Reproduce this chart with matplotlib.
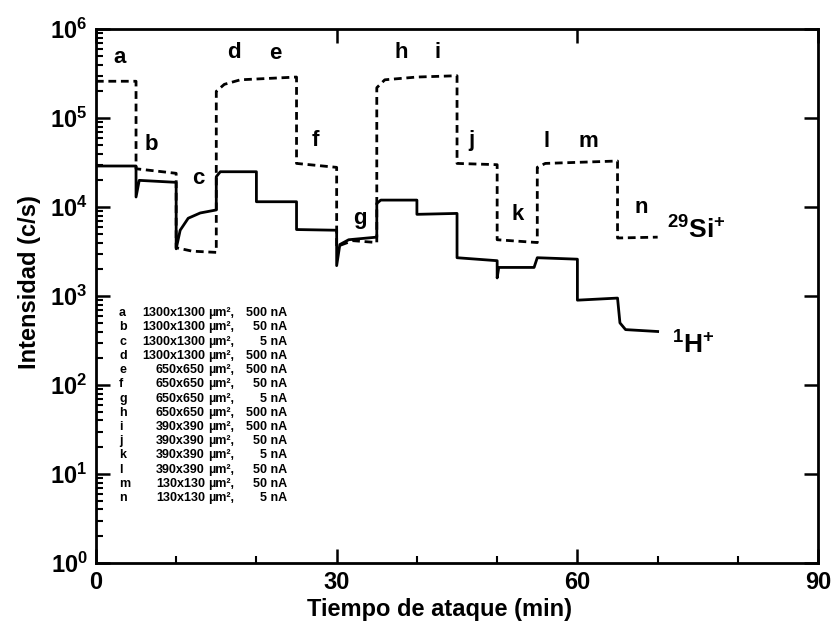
import numpy as np
import matplotlib
matplotlib.use("Agg")
import matplotlib.pyplot as plt
from matplotlib.ticker import MultipleLocator, LogLocator, NullFormatter

plt.rcParams['font.family'] = ['Liberation Sans', 'DejaVu Sans']
plt.rcParams['font.weight'] = 'bold'
plt.rcParams['mathtext.fontset'] = 'custom'
plt.rcParams['mathtext.rm'] = 'Liberation Sans:bold'
plt.rcParams['mathtext.it'] = 'Liberation Sans:bold'
plt.rcParams['mathtext.bf'] = 'Liberation Sans:bold'

# 29Si+ (linea discontinua): puntos de quiebre
si_t = [0, 5, 5, 10, 10, 12, 15, 15, 16, 18, 25, 25, 30, 30, 32, 35,
        35, 36, 40, 45, 45, 50, 50, 55, 55, 56, 65, 65, 70]
si_v = [2.6e5, 2.6e5, 2.7e4, 2.4e4, 3.5e3, 3.2e3, 3.1e3, 2.0e5, 2.4e5, 2.7e5,
        2.9e5, 3.1e4, 2.8e4, 3.6e3, 4.2e3, 4.0e3,
        2.2e5, 2.7e5, 2.9e5, 3.0e5, 3.1e4, 3.0e4, 4.3e3, 4.0e3,
        2.8e4, 3.1e4, 3.3e4, 4.5e3, 4.6e3]

# 1H+ (linea continua)
h_t = [0, 5, 5, 5.4, 10, 10, 10.5, 11.5, 13, 15, 15, 15.5, 20, 20, 25, 25, 30,
       30, 30.4, 31.5, 35, 35, 35.5, 40, 40, 45, 45, 50, 50, 50.2, 54.6, 55,
       60, 60, 65, 65.3, 66, 70]
h_v = [2.9e4, 2.9e4, 1.3e4, 2.0e4, 1.9e4, 3.4e3, 5.5e3, 7.5e3, 8.6e3, 9.3e3,
       2.2e4, 2.5e4, 2.5e4, 1.15e4, 1.15e4, 5.6e3, 5.5e3,
       2.2e3, 3.8e3, 4.3e3, 4.6e3, 1.1e4, 1.2e4, 1.2e4, 8.3e3, 8.5e3,
       2.7e3, 2.5e3, 1.6e3, 2.1e3, 2.1e3, 2.7e3,
       2.6e3, 9.0e2, 9.5e2, 5.0e2, 4.2e2, 4.0e2]

# etiquetas de las etapas
etapa_txt = ['a', 'b', 'c', 'd', 'e', 'f', 'g', 'h', 'i', 'j', 'k', 'l', 'm', 'n']
etapa_x = [3.0, 6.85, 12.7, 17.2, 22.3, 27.4, 32.9, 38.0, 42.6, 46.8, 52.6, 56.2, 61.4, 68.0]
etapa_y = [4.8e5, 5.0e4, 2.1e4, 5.5e5, 5.3e5, 5.6e4, 7.5e3, 5.5e5, 5.5e5, 5.6e4, 8.3e3,
           5.5e4, 5.5e4, 1.0e4]

# tabla de condiciones
cond_area = ['1300x1300', '1300x1300', '1300x1300', '1300x1300', '650x650', '650x650',
             '650x650', '650x650', '390x390', '390x390', '390x390', '390x390',
             '130x130', '130x130']
cond_corr = ['500 nA', '50 nA', '5 nA', '500 nA', '500 nA', '50 nA', '5 nA', '500 nA',
             '500 nA', '50 nA', '5 nA', '50 nA', '50 nA', '5 nA']

fig = plt.figure(figsize=(8.34, 6.35), dpi=100)
ax = fig.add_axes([0.115, 0.1134, 0.866, 0.8406])

ax.plot(si_t, si_v, color='black', lw=2.0, linestyle=(0, (2.8, 1.7)))
ax.plot(h_t, h_v, color='black', lw=2.0)

ax.set_yscale('log')
ax.set_xlim(0, 90)
ax.set_ylim(1, 1e6)

ax.xaxis.set_major_locator(MultipleLocator(30))
ax.xaxis.set_minor_locator(MultipleLocator(10))
ax.yaxis.set_minor_locator(LogLocator(base=10, subs=np.arange(2, 10), numticks=20))
ax.yaxis.set_minor_formatter(NullFormatter())
ax.set_yticks([10.0 ** k for k in range(7)])
ax.set_yticklabels([r'$10^{%d}$' % k for k in range(7)])

ax.tick_params(which='major', direction='in', length=10, width=1.8,
               top=True, right=True, labelsize=17, pad=6)
ax.tick_params(which='minor', direction='in', length=5, width=1.5,
               top=False, right=False)
for s in ax.spines.values():
    s.set_linewidth(2.0)

ax.set_xlabel('Tiempo de ataque (min)', fontsize=17, fontweight='bold')
ax.set_ylabel('Intensidad (c/s)', fontsize=17, fontweight='bold')
ax.xaxis.set_label_coords(0.476, -0.065)
ax.yaxis.set_label_coords(-0.076, 0.526)
ax.xaxis.label.set_va('top')

for txt, x, y in zip(etapa_txt, etapa_x, etapa_y):
    ax.text(x, y, txt, fontsize=16, ha='center', va='center')

ax.text(71.2, 5.5e3, r'$^{29}$Si$^{+}$', fontsize=19, ha='left', va='center')
ax.text(71.8, 2.8e2, r'$^{1}$H$^{+}$', fontsize=19, ha='left', va='center')

# bloque de condiciones
y0 = 0.468
dy = 0.02665
for i in range(len(etapa_txt)):
    yy = y0 - i * dy
    ax.text(0.032, yy, etapa_txt[i], transform=ax.transAxes, fontsize=9,
            ha='left', va='center')
    ax.text(0.151, yy, cond_area[i], transform=ax.transAxes, fontsize=9,
            ha='right', va='center')
    ax.text(0.155, yy, 'µm²,', transform=ax.transAxes, fontsize=9,
            ha='left', va='center')
    ax.text(0.265, yy, cond_corr[i], transform=ax.transAxes, fontsize=9,
            ha='right', va='center')

plt.savefig('out.png', dpi=100)
